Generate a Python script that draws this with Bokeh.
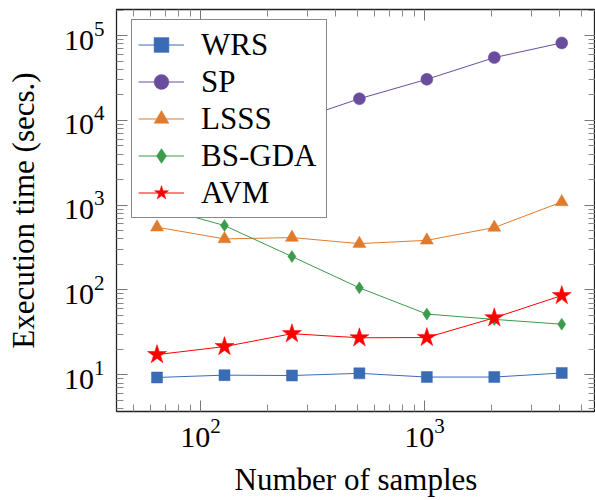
from bokeh.plotting import figure
from bokeh.models import (LogAxis, FixedTicker, Legend, LegendItem, Range1d,
                          CustomJSTickFormatter)
from bokeh.embed import file_html
from bokeh.resources import INLINE

# ---- data ----
samples = [64, 128, 256, 512, 1024, 2048, 4096]
wrs = [9.3, 9.9, 9.8, 10.4, 9.4, 9.4, 10.5]
sp = [2900, 5300, 9700, 18000, 30500, 55000, 82000]
lsss = [550, 400, 415, 352, 385, 545, 1090]
bsgda = [960, 575, 248, 106, 52, 45, 39.5]
avm = [17.3, 21.5, 30.5, 27.3, 27.5, 47, 86]

series_names = ["WRS", "SP", "LSSS", "BS-GDA", "AVM"]
x_major_ticks = [100, 1000]
y_major_ticks = [10, 100, 1000, 10000, 100000]
x_label = "Number of samples"
y_label = "Execution time (secs.)"

FONT = "Liberation Serif"

x_minor = [m * 10 ** e for e in range(1, 4) for m in range(2, 10)]
y_minor = [m * 10 ** e for e in range(0, 6) for m in range(2, 10)]

p = figure(width=595, height=500, x_axis_type="log", y_axis_type="log",
           x_range=Range1d(42.2, 5794), y_range=Range1d(3.69, 2.03e5),
           output_backend="svg", toolbar_location=None,
           min_border_left=116, min_border_right=0, min_border_top=9,
           min_border_bottom=89)
p.xgrid.visible = False
p.ygrid.visible = False
p.outline_line_color = "#222222"
p.outline_line_width = 1.3
p.background_fill_color = "white"
p.border_fill_color = "white"

xt = FixedTicker(ticks=x_major_ticks, minor_ticks=x_minor)
yt = FixedTicker(ticks=y_major_ticks, minor_ticks=y_minor)


def style_axis(ax):
    ax.axis_line_color = None
    ax.major_tick_in = 11
    ax.major_tick_out = 0
    ax.minor_tick_in = 7
    ax.minor_tick_out = 0
    ax.major_tick_line_color = "#777777"
    ax.minor_tick_line_color = "#888888"
    ax.major_label_text_font = FONT
    ax.major_label_text_font_size = "30px"
    ax.major_label_text_color = "black"
    ax.axis_label_text_font = FONT
    ax.axis_label_text_font_size = "31px"
    ax.axis_label_text_font_style = "normal"
    ax.axis_label_text_color = "black"


p.xaxis.ticker = xt
p.yaxis.ticker = yt
style_axis(p.xaxis[0])
style_axis(p.yaxis[0])
p.xaxis.axis_label = x_label
p.yaxis.axis_label = y_label
p.xaxis.major_label_standoff = 7
p.xaxis.axis_label_standoff = 12
p.yaxis.major_label_standoff = 12
p.yaxis.axis_label_standoff = 20

blank = CustomJSTickFormatter(code="return ''")
top_ax = LogAxis(ticker=xt, formatter=blank)
right_ax = LogAxis(ticker=yt, formatter=blank)
for ax in (top_ax, right_ax):
    style_axis(ax)
    ax.major_label_standoff = 0
    ax.major_label_text_font_size = "0px"
p.add_layout(top_ax, "above")
p.add_layout(right_ax, "right")

colors = ["#3a6bb5", "#6a4c9e", "#e07b2e", "#3b9a4b", "#ff0000"]
markers = ["square", "circle", "triangle", "diamond", "star"]
sizes = [11, 12, 13, 12, 20]
data = [wrs, sp, lsss, bsgda, avm]

items = []
for name, ys, c, mk, sz in zip(series_names, data, colors, markers, sizes):
    ln = p.line(samples, ys, line_color=c, line_width=1)
    sc = p.scatter(samples, ys, marker=mk, size=sz, fill_color=c,
                   line_color=c, line_width=0.5)
    items.append(LegendItem(label=name, renderers=[ln, sc]))

legend = Legend(items=items, location=(15, 193))
legend.label_text_font = FONT
legend.label_text_font_size = "31px"
legend.label_text_color = "black"
legend.glyph_width = 46
legend.glyph_height = 37
legend.label_height = 37
legend.label_width = 119
legend.label_standoff = 17
legend.spacing = 0
legend.padding = 6
legend.margin = 0
legend.border_line_color = "#111111"
legend.border_line_width = 1.3
legend.background_fill_alpha = 1
p.add_layout(legend)

open("out.html", "w").write(file_html(p, INLINE))
